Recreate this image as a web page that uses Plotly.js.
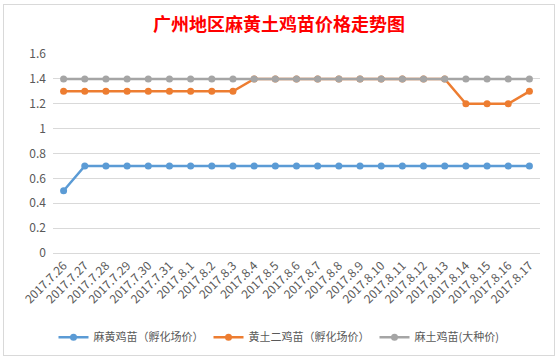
<!DOCTYPE html>
<html><head><meta charset="utf-8">
<script src="https://cdn.plot.ly/plotly-3.0.1.min.js"></script>
<style>
html,body{margin:0;padding:0;background:#fff;width:557px;height:359px;overflow:hidden;}
#frame{position:absolute;left:3px;top:4px;width:550px;height:350px;border:1px solid #d9d9d9;}
#chart{width:550px;height:350px;}
</style></head>
<body>
<div id="frame"><div id="chart"></div></div>
<script>
const categories = ["2017.7.26","2017.7.27","2017.7.28","2017.7.29","2017.7.30","2017.7.31","2017.8.1","2017.8.2","2017.8.3","2017.8.4","2017.8.5","2017.8.6","2017.8.7","2017.8.8","2017.8.9","2017.8.10","2017.8.11","2017.8.12","2017.8.13","2017.8.14","2017.8.15","2017.8.16","2017.8.17"];
const mahuang = [0.5,0.7,0.7,0.7,0.7,0.7,0.7,0.7,0.7,0.7,0.7,0.7,0.7,0.7,0.7,0.7,0.7,0.7,0.7,0.7,0.7,0.7,0.7];
const huangtu2 = [1.3,1.3,1.3,1.3,1.3,1.3,1.3,1.3,1.3,1.4,1.4,1.4,1.4,1.4,1.4,1.4,1.4,1.4,1.4,1.2,1.2,1.2,1.3];
const matu = [1.4,1.4,1.4,1.4,1.4,1.4,1.4,1.4,1.4,1.4,1.4,1.4,1.4,1.4,1.4,1.4,1.4,1.4,1.4,1.4,1.4,1.4,1.4];
const names = ["麻黄鸡苗（孵化场价）","黄土二鸡苗（孵化场价）","麻土鸡苗(大种价)"];
const colors = ["#5B9BD5","#ED7D31","#A5A5A5"];
const series = [mahuang, huangtu2, matu];

const traces = series.map((s,i)=>({
  type:'scatter', mode:'lines+markers', x:categories, y:s, name:names[i],
  line:{color:colors[i], width:2.5}, marker:{color:colors[i], size:7}
}));
const layout = {
  width:550, height:350,
  margin:{l:49,r:14,t:49,b:102},
  paper_bgcolor:'#fff', plot_bgcolor:'#fff',
  font:{family:'"Microsoft YaHei","Noto Sans CJK SC",sans-serif', size:12, color:'#595959'},
  title:{text:'广州地区麻黄土鸡苗价格走势图', font:{family:'"Noto Sans CJK SC",sans-serif', size:18, color:'#FF0000', weight:'bold'}, x:0.5, xanchor:'center', y:0.945, yanchor:'middle'},
  xaxis:{type:'category', range:[-0.5,22.5], tickangle:-45, showgrid:false, showline:true, linecolor:'#d9d9d9', ticks:'', tickfont:{size:12,color:'#595959'}, automargin:false, fixedrange:true},
  yaxis:{range:[0,1.6], dtick:0.2, tick0:0, gridcolor:'#d9d9d9', zeroline:false, showline:false, ticks:'', tickfont:{size:12,color:'#595959'}, ticklabelstandoff:6, automargin:false, fixedrange:true},
  showlegend:true,
  legend:{orientation:'h', xref:'container', x:0.5, xanchor:'center', yref:'container', y:0.051, yanchor:'middle', font:{size:11,color:'#595959'}, itemwidth:30, traceorder:'normal'}
};
Plotly.newPlot('chart', traces, layout, {displayModeBar:false, staticPlot:true});
</script>
</body></html>
